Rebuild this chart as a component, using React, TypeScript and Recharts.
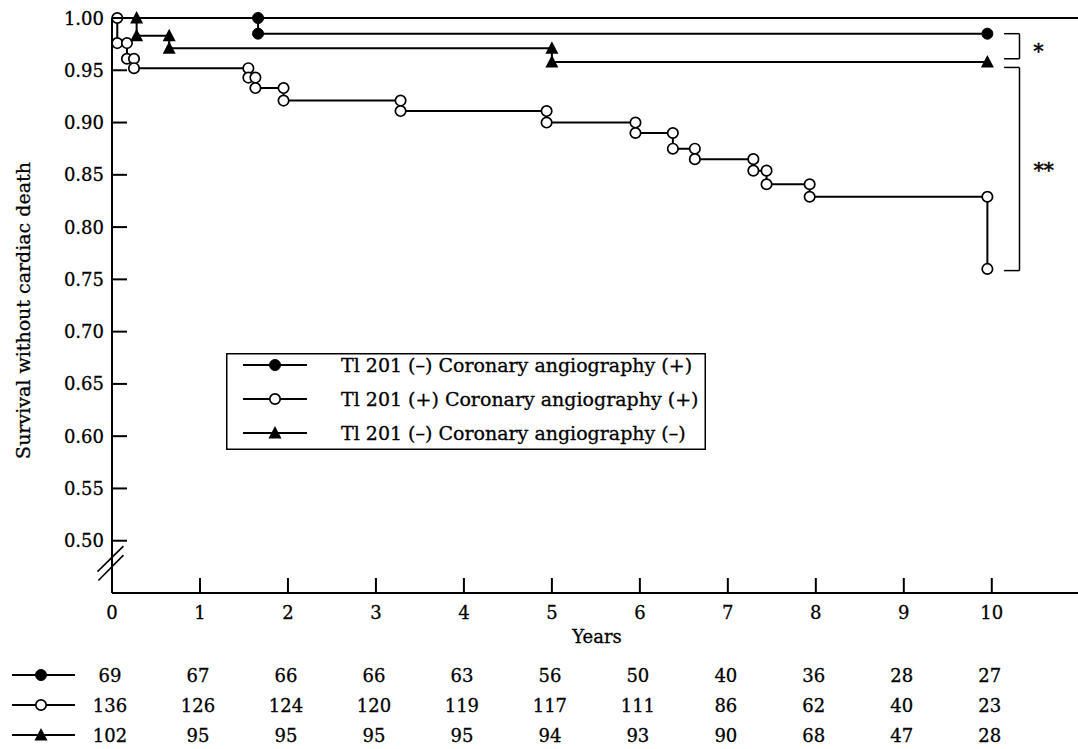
import React from 'react';
import { LineChart, Line, XAxis, YAxis, ReferenceLine, ReferenceDot, Legend } from 'recharts';

const FONT = '"DejaVu Serif", "Liberation Serif", serif';
const FS = 18;
const FS_TEXT = 19;
const TEXT_STROKE = 0.3;

// Years axis and number-at-risk table
const years = [0, 1, 2, 3, 4, 5, 6, 7, 8, 9, 10];
const atRiskTlNegCaPos = [69, 67, 66, 66, 63, 56, 50, 40, 36, 28, 27];
const atRiskTlPosCaPos = [136, 126, 124, 120, 119, 117, 111, 86, 62, 40, 23];
const atRiskTlNegCaNeg = [102, 95, 95, 95, 95, 94, 93, 90, 68, 47, 28];

const seriesNames = [
  'Tl 201 (–) Coronary angiography (+)',
  'Tl 201 (+) Coronary angiography (+)',
  'Tl 201 (–) Coronary angiography (–)',
];

const yTicks = [0.5, 0.55, 0.6, 0.65, 0.7, 0.75, 0.8, 0.85, 0.9, 0.95, 1.0];

// Kaplan-Meier events (time in years, survival after event)
const tlNegCaPosTimes = [1.66];
const tlNegCaPosSurv = [0.985];
const tlNegCaPosEnd = 9.95;

const tlPosCaPosTimes = [0.06, 0.17, 0.25, 1.55, 1.63, 1.95, 3.28, 4.94, 5.95, 6.375, 6.625, 7.29, 7.44, 7.93, 9.95];
const tlPosCaPosSurv = [0.976, 0.961, 0.952, 0.943, 0.933, 0.921, 0.911, 0.9, 0.89, 0.875, 0.865, 0.854, 0.841, 0.829, 0.76];

const tlNegCaNegTimes = [0.28, 0.65, 5.0];
const tlNegCaNegSurv = [0.983, 0.971, 0.958];
const tlNegCaNegEnd = 9.95;

type Pt = { x: number; y: number; m: boolean };

function kmPoints(times: number[], surv: number[], end?: number): Pt[] {
  const pts: Pt[] = [{ x: 0, y: 1, m: false }];
  let prev = 1;
  times.forEach((t, i) => {
    pts.push({ x: t, y: prev, m: true });
    pts.push({ x: t, y: surv[i], m: true });
    prev = surv[i];
  });
  if (end !== undefined) pts.push({ x: end, y: prev, m: true });
  return pts;
}

const dataNegPos = kmPoints(tlNegCaPosTimes, tlNegCaPosSurv, tlNegCaPosEnd);
const dataPosPos = kmPoints(tlPosCaPosTimes, tlPosCaPosSurv);
const dataNegNeg = kmPoints(tlNegCaNegTimes, tlNegCaNegSurv, tlNegCaNegEnd);

type Kind = 'filled' | 'open' | 'tri';

function Marker({ kind, cx, cy }: { kind: Kind; cx: number; cy: number }) {
  if (kind === 'filled') return <circle cx={cx} cy={cy} r={5.5} fill="#000" stroke="#000" strokeWidth={1} />;
  if (kind === 'open') return <circle cx={cx} cy={cy} r={5.2} fill="#fff" stroke="#000" strokeWidth={1.7} />;
  return <path d={`M${cx},${cy - 7} L${cx + 6.5},${cy + 5.5} L${cx - 6.5},${cy + 5.5} Z`} fill="#000" />;
}

const dotRenderer = (kind: Kind) => (props: any) => {
  const { cx, cy, payload, index } = props;
  if (!payload || !payload.m || cx == null || cy == null) return <g key={`d-${index}`} />;
  return <g key={`d-${index}`}><Marker kind={kind} cx={cx} cy={cy} /></g>;
};

const txt = { fontFamily: FONT, fill: '#000', stroke: '#000', strokeWidth: TEXT_STROKE };

const tableRows: { values: number[]; kind: Kind }[] = [
  { values: atRiskTlNegCaPos, kind: 'filled' },
  { values: atRiskTlPosCaPos, kind: 'open' },
  { values: atRiskTlNegCaNeg, kind: 'tri' },
];

// Main x tick: inward tick mark, year label and the number-at-risk column below it
const XMainTick = (props: any) => {
  const { x, y, payload } = props;
  const i = years.indexOf(payload.value);
  return (
    <g>
      <line x1={x} x2={x} y1={y} y2={y - 15} stroke="#000" strokeWidth={2} />
      <text x={x} y={y + 26} textAnchor="middle" fontSize={FS} {...txt}>
        {payload.value}
      </text>
      {tableRows.map((row, r) => {
        const cy = y + 82 + r * 30;
        return (
          <g key={r}>
            {i === 0 && (
              <g>
                <line x1={x - 100} x2={x - 37} y1={cy} y2={cy} stroke="#000" strokeWidth={2} />
                <Marker kind={row.kind} cx={x - 71} cy={cy} />
              </g>
            )}
            <text x={x - 2} y={cy + 6.5} textAnchor="middle" fontSize={FS} {...txt}>
              {i >= 0 ? row.values[i] : ''}
            </text>
          </g>
        );
      })}
    </g>
  );
};

const YTick = (props: any) => {
  const { x, y, payload } = props;
  return (
    <g>
      <line x1={x} x2={x + 15} y1={y} y2={y} stroke="#000" strokeWidth={2} />
      <text x={x - 8} y={y + 6.5} textAnchor="end" fontSize={FS} {...txt}>
        {Number(payload.value).toFixed(2)}
      </text>
    </g>
  );
};

const legendKinds: Kind[] = ['filled', 'open', 'tri'];

const LegendBox = () => (
  <svg width={480} height={97} style={{ display: 'block' }}>
    <rect x={0.75} y={0.75} width={478.5} height={95.5} fill="#fff" stroke="#000" strokeWidth={1.5} />
    {seriesNames.map((name, i) => {
      const cy = 12 + i * 34;
      return (
        <g key={name}>
          <line x1={17} x2={81} y1={cy} y2={cy} stroke="#000" strokeWidth={2} />
          <Marker kind={legendKinds[i]} cx={49} cy={cy} />
          <text x={115} y={cy + 6.5} fontSize={FS_TEXT} {...txt}>{name}</text>
        </g>
      );
    })}
  </svg>
);

const YLabel = (p: any) => {
  const vb = p.viewBox || { x: 0, y: 18, width: 112, height: 575 };
  const cx = vb.x + 30;
  const cy = vb.y + vb.height / 2 + 5;
  return (
    <text transform={`rotate(-90 ${cx} ${cy})`} x={cx} y={cy} textAnchor="middle" fontSize={FS_TEXT} {...txt}>
      Survival without cardiac death
    </text>
  );
};

const XLabel = (p: any) => {
  const vb = p.viewBox || { x: 112, y: 593, width: 966, height: 156 };
  return (
    <text x={vb.x + vb.width / 2 + 2} y={vb.y + 50} textAnchor="middle" fontSize={FS} {...txt}>
      Years
    </text>
  );
};

const lineStyle = { stroke: '#000', strokeWidth: 2 };
const bracket = { stroke: '#000', strokeWidth: 1.5 };

export default function App() {
  return (
    <div style={{ position: 'absolute', left: 0, top: 0, width: 1078, height: 749, overflow: 'hidden', background: '#fff' }}>
      <LineChart width={1078} height={749} margin={{ top: 18, right: 0, bottom: 0, left: 0 }}>
        <XAxis
          xAxisId="main"
          dataKey="x"
          type="number"
          domain={[0, 10.98]}
          ticks={years}
          interval={0}
          height={156}
          tickSize={0}
          tickMargin={0}
          tickLine={false}
          axisLine={lineStyle}
          tick={XMainTick}
          allowDuplicatedCategory={false}
          label={XLabel}
        />
        <YAxis
          type="number"
          domain={[0.45, 1.0]}
          ticks={yTicks}
          interval={0}
          width={112}
          tickSize={0}
          tickMargin={0}
          tickLine={false}
          axisLine={lineStyle}
          tick={YTick}
          label={YLabel}
        />
        <ReferenceLine xAxisId="main" y={1.0} stroke="#000" strokeWidth={2} ifOverflow="visible" />
        {/* axis break */}
        <ReferenceLine xAxisId="main" ifOverflow="visible" stroke="#000" strokeWidth={1.6}
          segment={[{ x: -0.165, y: 0.4705 }, { x: 0.13, y: 0.4948 }]} />
        <ReferenceLine xAxisId="main" ifOverflow="visible" stroke="#000" strokeWidth={1.6}
          segment={[{ x: -0.155, y: 0.462 }, { x: 0.13, y: 0.4862 }]} />
        {/* significance brackets */}
        <ReferenceLine xAxisId="main" ifOverflow="visible" {...bracket} segment={[{ x: 10.14, y: 0.985 }, { x: 10.315, y: 0.985 }]} />
        <ReferenceLine xAxisId="main" ifOverflow="visible" {...bracket} segment={[{ x: 10.315, y: 0.985 }, { x: 10.315, y: 0.961 }]} />
        <ReferenceLine xAxisId="main" ifOverflow="visible" {...bracket} segment={[{ x: 10.14, y: 0.961 }, { x: 10.315, y: 0.961 }]} />
        <ReferenceLine xAxisId="main" ifOverflow="visible" {...bracket} segment={[{ x: 10.14, y: 0.9527 }, { x: 10.315, y: 0.9527 }]} />
        <ReferenceLine xAxisId="main" ifOverflow="visible" {...bracket} segment={[{ x: 10.315, y: 0.9527 }, { x: 10.315, y: 0.7584 }]} />
        <ReferenceLine xAxisId="main" ifOverflow="visible" {...bracket} segment={[{ x: 10.14, y: 0.7584 }, { x: 10.315, y: 0.7584 }]} />
        <ReferenceDot xAxisId="main" x={10.53} y={0.9686} r={0} fill="none" stroke="none" ifOverflow="visible"
          label={{ value: '*', position: 'center', fontFamily: FONT, fontSize: FS + 2, fill: '#000', stroke: '#000', strokeWidth: 0.5 }} />
        <ReferenceDot xAxisId="main" x={10.59} y={0.855} r={0} fill="none" stroke="none" ifOverflow="visible"
          label={{ value: '**', position: 'center', fontFamily: FONT, fontSize: FS + 2, fill: '#000', stroke: '#000', strokeWidth: 0.5 }} />
        <Line xAxisId="main" name={seriesNames[0]} data={dataNegPos} dataKey="y" type="linear" stroke="#000" strokeWidth={2}
          dot={dotRenderer('filled')} activeDot={false} isAnimationActive={false} />
        <Line xAxisId="main" name={seriesNames[1]} data={dataPosPos} dataKey="y" type="linear" stroke="#000" strokeWidth={2}
          dot={dotRenderer('open')} activeDot={false} isAnimationActive={false} />
        <Line xAxisId="main" name={seriesNames[2]} data={dataNegNeg} dataKey="y" type="linear" stroke="#000" strokeWidth={2}
          dot={dotRenderer('tri')} activeDot={false} isAnimationActive={false} />
        <Legend
          layout="horizontal"
          verticalAlign="middle"
          align="center"
          wrapperStyle={{ position: 'absolute', left: 226, top: 353, width: 480, height: 97 }}
          content={() => <LegendBox />}
        />
      </LineChart>
    </div>
  );
}
